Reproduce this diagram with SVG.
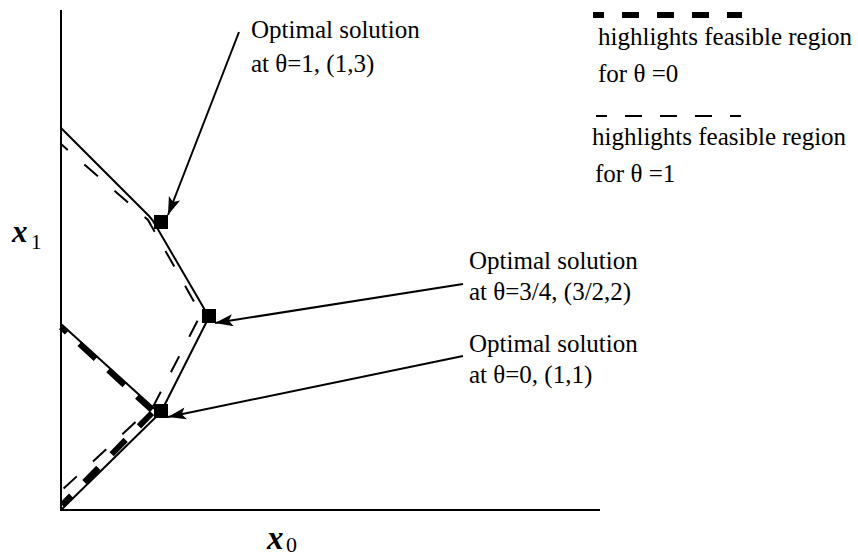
<svg xmlns="http://www.w3.org/2000/svg" width="858" height="558" viewBox="0 0 858 558">
<style>
.t{font-family:"Liberation Serif","Times New Roman",serif;font-size:25px;fill:#000}
.ax{stroke:#000;stroke-width:2;fill:none}
.sol{stroke:#000;stroke-width:2;fill:none;stroke-linejoin:round}
.hv{stroke:#000;stroke-width:6;fill:none}
.th{stroke:#000;stroke-width:2;fill:none}
.arr{stroke:#000;stroke-width:2;fill:none;marker-end:url(#ah)}
.pt{fill:#000}
</style>
<defs>
<marker id="ah" markerUnits="userSpaceOnUse" markerWidth="24" markerHeight="16" viewBox="-20 -8 24 16" refX="0" refY="0" orient="auto">
<path d="M0,0 L-18,-6 L-14,0 L-18,6 Z" fill="#000"/>
</marker>
</defs>
<g id="axes">
<line class="ax" x1="61" y1="10" x2="61" y2="511"/>
<line class="ax" x1="60" y1="510" x2="600" y2="510"/>
<text id="x1label" x="12" y="242" font-family="Liberation Serif, serif" font-size="31" font-weight="bold" font-style="italic">x</text>
<text x="31" y="249" font-family="Liberation Serif, serif" font-size="21">1</text>
<text id="x0label" x="267" y="549" font-family="Liberation Serif, serif" font-size="33" font-weight="bold" font-style="italic">x</text>
<text x="286" y="552" font-family="Liberation Serif, serif" font-size="22">0</text>
</g>
<g id="regions">
<path class="sol" d="M61,128 L149,216 Q153,220 156,226 L209,317 L161,412 L61,510"/>
<path class="sol" d="M61,324 L157,411"/>
<path class="hv" d="M61,327 L152,410" stroke-dasharray="22 17" stroke-dashoffset="14"/>
<path class="hv" d="M62,505 L152,413" stroke-dasharray="20 19" stroke-dashoffset="7"/>
<path class="th" d="M61,144 L148,220 L201,314 L154,405 L61,491" stroke-dasharray="18 22" stroke-dashoffset="9"/>
</g>
<g id="points">
<rect class="pt" x="154" y="215" width="14" height="14"/>
<rect class="pt" x="202" y="309" width="14" height="14"/>
<rect class="pt" x="154" y="404" width="14" height="14"/>
</g>
<g id="connectors">
<line class="arr" x1="239" y1="32" x2="168" y2="215"/>
<line class="arr" x1="463" y1="284" x2="215" y2="323"/>
<line class="arr" x1="463" y1="356" x2="168" y2="417"/>
</g>
<g id="label-theta1">
<text class="t" x="251" y="38">Optimal solution</text>
<text class="t" x="251" y="72">at θ=1, (1,3)</text>
</g>
<g id="label-theta34">
<text class="t" x="469" y="269">Optimal solution</text>
<text class="t" x="469" y="300">at θ=3/4, (3/2,2)</text>
</g>
<g id="label-theta0">
<text class="t" x="469" y="352">Optimal solution</text>
<text class="t" x="469" y="383">at θ=0, (1,1)</text>
</g>
<g id="legend">
<line class="hv" x1="593" y1="15" x2="742" y2="15" stroke-width="5" stroke-dasharray="17 18" stroke-dashoffset="6"/>
<text class="t" x="598" y="45">highlights feasible region</text>
<text class="t" x="598" y="82">for θ =0</text>
<line class="th" x1="596" y1="116" x2="741" y2="116" stroke-width="2.5" stroke-dasharray="17 18" stroke-dashoffset="6"/>
<text class="t" x="592" y="145">highlights feasible region</text>
<text class="t" x="595" y="182">for θ =1</text>
</g>
</svg>
